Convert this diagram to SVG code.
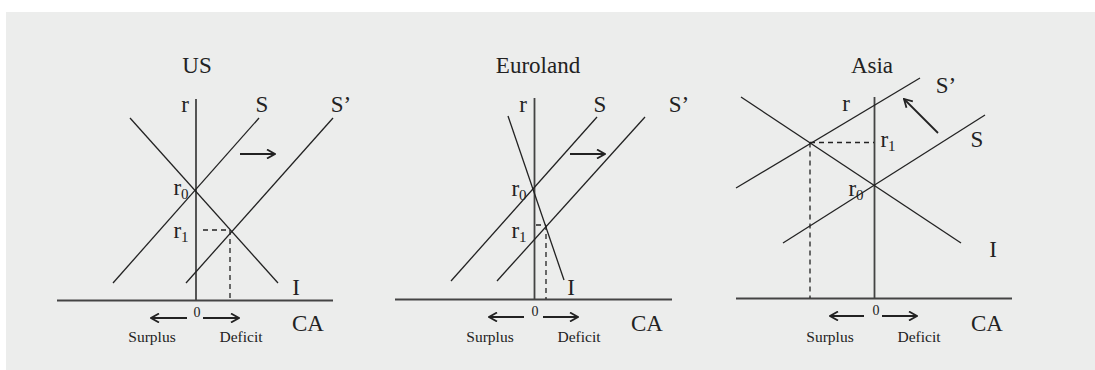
<svg xmlns="http://www.w3.org/2000/svg" width="1095" height="370" viewBox="0 0 1095 370">
<defs>
<marker id="ah" viewBox="0 0 10 10" refX="9" refY="5" markerWidth="10" markerHeight="10" markerUnits="userSpaceOnUse" orient="auto">
<path d="M1,0.5 L9,5 L1,9.5" fill="none" stroke="#222" stroke-width="1.8"/>
</marker>
</defs>
<style>
.bg{fill:#ECEDEC}
.ax{stroke:#444;stroke-width:1.8;fill:none}
.ln{stroke:#222;stroke-width:1.3;fill:none}
.ds{stroke:#222;stroke-width:1.3;fill:none;stroke-dasharray:5,4}
.ar{stroke:#222;stroke-width:1.8;fill:none;marker-end:url(#ah)}
.t{font-family:"Liberation Serif","Times New Roman",serif;fill:#222;font-size:23px;text-anchor:middle}
.s{font-family:"Liberation Serif","Times New Roman",serif;fill:#222;font-size:15.5px;text-anchor:middle}
.z{font-family:"Liberation Serif","Times New Roman",serif;fill:#222;font-size:14px;text-anchor:middle}
.sub{font-size:15px}
</style>
<rect class="bg" x="6" y="12" width="1089" height="358"/>

<g id="us">
<text class="t" x="197" y="73">US</text>
<g id="us-lines">
<line class="ax" x1="196" y1="99" x2="196" y2="300"/>
<line class="ax" x1="57" y1="300.5" x2="333" y2="300.5"/>
<line class="ln" x1="113" y1="283" x2="259" y2="118"/>
<line class="ln" x1="186" y1="283" x2="333" y2="118"/>
<line class="ln" x1="130" y1="118" x2="278" y2="283"/>
<line class="ds" x1="203" y1="230" x2="230" y2="230"/>
<line class="ds" x1="230" y1="230" x2="230" y2="300"/>
<line class="ar" x1="240" y1="154" x2="275" y2="154"/>
<line class="ar" x1="187" y1="318" x2="151" y2="318"/>
<line class="ar" x1="203" y1="318" x2="239" y2="318"/>
</g>
<text class="t" x="185" y="112">r</text>
<text class="t" x="262" y="112">S</text>
<text class="t" x="341" y="112">S’</text>
<text class="t" x="181" y="195">r<tspan class="sub" dy="4">0</tspan></text>
<text class="t" x="181" y="238">r<tspan class="sub" dy="4">1</tspan></text>
<text class="t" x="296" y="295">I</text>
<text class="z" x="197" y="317">0</text>
<text class="s" x="152" y="342">Surplus</text>
<text class="s" x="241" y="342">Deficit</text>
<text class="t" x="308" y="331">CA</text>
</g>

<g id="euroland">
<text class="t" x="538" y="73">Euroland</text>
<g id="eu-lines">
<line class="ax" x1="534.5" y1="98" x2="534.5" y2="299"/>
<line class="ax" x1="395" y1="299.5" x2="672" y2="299.5"/>
<line class="ln" x1="451" y1="281" x2="597" y2="117"/>
<line class="ln" x1="497" y1="281" x2="645" y2="117"/>
<line class="ln" x1="508" y1="116" x2="564" y2="280"/>
<line class="ds" x1="536" y1="225" x2="546" y2="225"/>
<line class="ds" x1="546" y1="225" x2="546" y2="299"/>
<line class="ar" x1="570" y1="154" x2="605" y2="154"/>
<line class="ar" x1="524" y1="317" x2="489" y2="317"/>
<line class="ar" x1="543" y1="317" x2="578" y2="317"/>
</g>
<text class="t" x="523" y="112">r</text>
<text class="t" x="600" y="112">S</text>
<text class="t" x="679" y="112">S’</text>
<text class="t" x="519" y="196">r<tspan class="sub" dy="4">0</tspan></text>
<text class="t" x="519" y="238">r<tspan class="sub" dy="4">1</tspan></text>
<text class="t" x="571" y="295">I</text>
<text class="z" x="535" y="316">0</text>
<text class="s" x="490" y="342">Surplus</text>
<text class="s" x="579" y="342">Deficit</text>
<text class="t" x="647" y="331">CA</text>
</g>

<g id="asia">
<text class="t" x="872" y="73">Asia</text>
<g id="asia-lines">
<line class="ax" x1="874.5" y1="97" x2="874.5" y2="298"/>
<line class="ax" x1="736" y1="298.5" x2="1012" y2="298.5"/>
<line class="ln" x1="736" y1="188" x2="920" y2="78"/>
<line class="ln" x1="783" y1="243" x2="985" y2="115"/>
<line class="ln" x1="741" y1="97" x2="961" y2="243"/>
<line class="ds" x1="810" y1="142.5" x2="874" y2="142.5"/>
<line class="ds" x1="810" y1="142.5" x2="810" y2="298"/>
<line class="ar" x1="938" y1="133" x2="904" y2="99"/>
<line class="ar" x1="864" y1="316" x2="830" y2="316"/>
<line class="ar" x1="882" y1="316" x2="917" y2="316"/>
</g>
<text class="t" x="846" y="111">r</text>
<text class="t" x="946" y="93">S’</text>
<text class="t" x="977" y="147">S</text>
<text class="t" x="888" y="147">r<tspan class="sub" dy="4">1</tspan></text>
<text class="t" x="856" y="196">r<tspan class="sub" dy="4">0</tspan></text>
<text class="t" x="993" y="257">I</text>
<text class="z" x="876" y="315">0</text>
<text class="s" x="830" y="342">Surplus</text>
<text class="s" x="919" y="342">Deficit</text>
<text class="t" x="987" y="331">CA</text>
</g>
</svg>
